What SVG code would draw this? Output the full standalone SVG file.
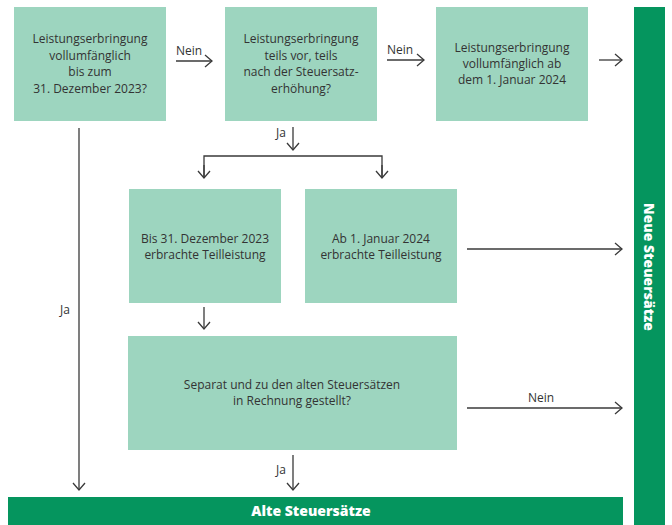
<svg xmlns="http://www.w3.org/2000/svg" width="672" height="525" viewBox="0 0 672 525">
<style>
.box{fill:#9dd5bf}
.bar{fill:#05955e}
.t{font-family:"Open Sans","Noto Sans",sans-serif;font-size:12px;fill:#333;text-anchor:middle}
.lbl{font-family:"Open Sans","Noto Sans",sans-serif;font-size:12px;fill:#333}
.w{font-family:"Open Sans","Noto Sans",sans-serif;font-size:14px;font-weight:800;fill:#fff;text-anchor:middle}
.c{fill:none;stroke:#3a3a3a;stroke-width:1.3}
</style>
<defs>
<marker id="ah" markerWidth="12" markerHeight="14" refX="10" refY="7" orient="auto" markerUnits="userSpaceOnUse">
<polyline points="3,1 10,7 3,13" fill="none" stroke="#3a3a3a" stroke-width="1.3"/>
</marker>
</defs>
<g id="b1"><rect class="box" x="14" y="7" width="152" height="114"/>
<text class="t" x="90" y="43">Leistungserbringung</text><text class="t" x="90" y="60">vollumfänglich</text><text class="t" x="90" y="76">bis zum</text><text class="t" x="90" y="93">31. Dezember 2023?</text></g>
<g id="b2"><rect class="box" x="225" y="7" width="152" height="114"/>
<text class="t" x="301" y="43">Leistungserbringung</text><text class="t" x="301" y="60">teils vor, teils</text><text class="t" x="301" y="76">nach der Steuersatz-</text><text class="t" x="301" y="93">erhöhung?</text></g>
<g id="b3"><rect class="box" x="436" y="7" width="152" height="114"/>
<text class="t" x="512" y="52">Leistungserbringung</text><text class="t" x="512" y="68">vollumfänglich ab</text><text class="t" x="512" y="84">dem 1. Januar 2024</text></g>
<g id="b4"><rect class="box" x="129" y="189" width="152" height="114"/>
<text class="t" x="205" y="243">Bis 31. Dezember 2023</text><text class="t" x="205" y="259">erbrachte Teilleistung</text></g>
<g id="b5"><rect class="box" x="305" y="189" width="152" height="114"/>
<text class="t" x="381" y="243">Ab 1. Januar 2024</text><text class="t" x="381" y="259">erbrachte Teilleistung</text></g>
<g id="b6"><rect class="box" x="128" y="336" width="329" height="114"/>
<text class="t" x="292" y="389">Separat und zu den alten Steuersätzen</text><text class="t" x="292" y="405">in Rechnung gestellt?</text></g>
<g id="neu"><rect class="bar" x="634" y="7" width="31" height="518"/>
<text class="w" transform="translate(644,267) rotate(90)">Neue Steuersätze</text></g>
<g id="alt"><rect class="bar" x="8" y="497" width="615" height="28"/>
<text class="w" x="311" y="516">Alte Steuersätze</text></g>
<g id="connectors">
<line class="c" x1="176" y1="61" x2="212" y2="61" marker-end="url(#ah)"/>
<line class="c" x1="387" y1="60" x2="424" y2="60" marker-end="url(#ah)"/>
<line class="c" x1="599" y1="60" x2="622" y2="60" marker-end="url(#ah)"/>
<line class="c" x1="293" y1="127" x2="293" y2="150" marker-end="url(#ah)"/>
<polyline class="c" points="204,178 204,156 382,156 382,178"/>
<line class="c" x1="204" y1="165" x2="204" y2="178" marker-end="url(#ah)"/>
<line class="c" x1="382" y1="165" x2="382" y2="178" marker-end="url(#ah)"/>
<line class="c" x1="467" y1="249" x2="622" y2="249" marker-end="url(#ah)"/>
<line class="c" x1="467" y1="408" x2="622" y2="408" marker-end="url(#ah)"/>
<line class="c" x1="204" y1="307" x2="204" y2="329" marker-end="url(#ah)"/>
<line class="c" x1="79" y1="128" x2="79" y2="490" marker-end="url(#ah)"/>
<line class="c" x1="293" y1="455" x2="293" y2="490" marker-end="url(#ah)"/>
<text class="lbl" x="176" y="55">Nein</text>
<text class="lbl" x="387" y="54">Nein</text>
<text class="lbl" x="276" y="137">Ja</text>
<text class="lbl" x="528" y="402">Nein</text>
<text class="lbl" x="60" y="314">Ja</text>
<text class="lbl" x="276" y="474">Ja</text>
</g>
</svg>
